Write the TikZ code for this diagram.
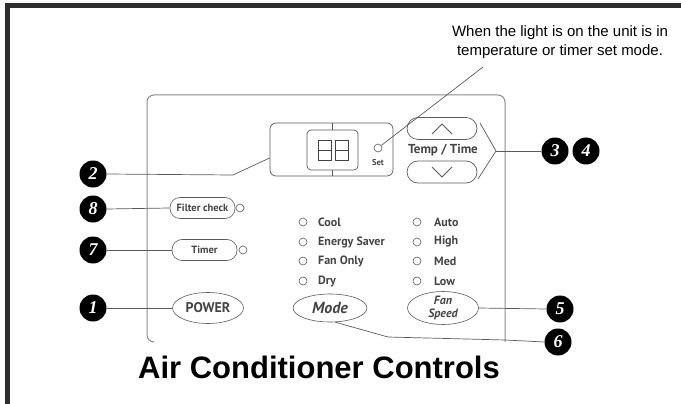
\documentclass[tikz,border=0pt]{standalone}
\usepackage{fontspec}
\setmainfont{Liberation Sans}
\newfontfamily\pfont{PT Sans}
\newfontfamily\nfont{Liberation Serif}
\usetikzlibrary{shapes.geometric,calc}
\definecolor{framec}{HTML}{2E2E2E}
\definecolor{panelc}{HTML}{8C8C8C}
\definecolor{ptext}{HTML}{444444}
\definecolor{cline}{HTML}{5A5A5A}
\begin{document}
\begin{tikzpicture}[x=1pt,y=-1pt,
  num/.style={circle,fill=black,minimum size=27pt,inner sep=0pt,text=white,
    font=\nfont\bfseries\itshape\fontsize{18}{18}\selectfont},
  pill/.style={draw=cline,rounded corners=10pt,minimum height=21pt,inner sep=0pt,
    font=\pfont\bfseries\fontsize{10.5}{12}\selectfont,text=ptext,line width=0.6pt},
  oval/.style={draw=cline,ellipse,inner sep=0pt,line width=0.6pt,text=ptext},
  led/.style={circle,draw=cline,minimum size=8pt,inner sep=0pt,line width=0.6pt},
  item/.style={anchor=west,inner sep=0pt,text=ptext,font=\pfont\bfseries\fontsize{12}{13}\selectfont},
  conn/.style={draw=cline,line width=0.7pt},
  panelline/.style={draw=panelc,line width=1pt},
  seg/.style={draw=ptext,line width=0.9pt}
]
\useasboundingbox (0,0) rectangle (681,404);
% outer frame strips
\fill[framec] (5,3) rectangle (681,8);
\fill[framec] (5,3) rectangle (10,404);

% note
\node[align=center,font=\fontsize{15}{19}\selectfont,inner sep=0pt] (note) at (560,42)
  {When the light is on the unit is in\\temperature or timer set mode.};
\coordinate (np) at (483,67);

% panel
\draw[panelline,rounded corners=7pt] (154,342) -- (147,342) -- (147,95) -- (505,95) -- (505,342);

% display
\node[draw=cline,rounded corners=6pt,minimum width=123pt,minimum height=53pt,inner sep=0pt,line width=0.7pt] (disp) at (331.5,149.5) {};
\node[draw=cline,rounded corners=4pt,minimum width=51pt,minimum height=40pt,inner sep=0pt,line width=0.7pt] (inner) at (332.5,150) {};
\draw[cline,line width=0.7pt] (inner.north) -- (inner.north |- disp.north);
\draw[cline,line width=0.7pt] (inner.south) -- (inner.south |- disp.south);
\draw[seg] (318,140) rectangle (331,160) (318,150) -- (331,150);
\draw[seg] (335,140) rectangle (348,160) (335,150) -- (348,150);
\node[led] (setled) at (378,148) {};
\node[font=\pfont\bfseries\fontsize{8.5}{9}\selectfont,text=ptext,inner sep=0pt] (settxt) at (378,163) {Set};

% temp / time
\node[draw=cline,rounded corners=11pt,minimum width=70pt,minimum height=22pt,inner sep=0pt,line width=0.7pt] (up) at (442,128.5) {};
\node[draw=cline,rounded corners=11pt,minimum width=70pt,minimum height=22pt,inner sep=0pt,line width=0.7pt] (down) at (442,172) {};
\draw[cline,line width=0.9pt] (432,134) -- (442,124) -- (452,134);
\draw[cline,line width=0.9pt] (432,167) -- (442,177) -- (452,167);
\node[font=\pfont\bfseries\fontsize{13}{13}\selectfont,text=ptext,inner sep=0pt] (tt) at (443,150) {Temp / Time};
\coordinate (bt) at (480,123);
\coordinate (bm) at (496,151);
\coordinate (bb) at (478,179);
\draw[conn] (bt) -- (bm) -- (bb);

% left buttons
\node[pill,minimum width=65pt] (filter) at (202.5,208) {Filter check};
\node[led,fill=white] (fled) at (240,208) {};
\node[pill,minimum width=65pt] (timer) at (204.5,250) {Timer};
\node[led,fill=white] (tled) at (243,250) {};
\node[oval,minimum width=71pt,minimum height=31pt,font=\pfont\bfseries\fontsize{14}{14}\selectfont] (power) at (208,308) {POWER};

% mode list
\foreach \y/\t [count=\i] in {222/Cool,242/Energy Saver,261/Fan Only,281/Dry}{
  \node[led] (ml\i) at (303,\y) {};
  \node[item] (mt\i) at (318,\y) {\t};
}
\foreach \y/\t [count=\i] in {222/Auto,242/High,261/Med,281/Low}{
  \node[led] (fl\i) at (417,\y) {};
  \node[item] (ft\i) at (434,\y) {\t};
}
\node[oval,minimum width=74pt,minimum height=28pt,font=\pfont\bfseries\itshape\fontsize{16}{16}\selectfont] (mode) at (330,308) {Mode};
\node[oval,minimum width=71pt,minimum height=30pt,align=center,font=\pfont\bfseries\itshape\fontsize{12}{12.5}\selectfont] (fan) at (443,308) {Fan\\Speed};

% numbered markers
\node[num] (n2) at (93,174) {2};
\node[num] (n8) at (93,209) {8};
\node[num] (n7) at (93,250) {7};
\node[num] (n1) at (93,308) {1};
\node[num] (n3) at (555,151) {3};
\node[num] (n4) at (586,151) {4};
\node[num] (n5) at (560,309) {5};
\node[num] (n6) at (558,342) {6};

% connectors
\draw[conn] (np) -- (setled);
\draw[conn] (n2.east) -- (233,175) -- ([yshift=-8.5pt]disp.west);
\draw[conn] (n8.east) -- (filter.west);
\draw[conn] (n7.east) -- (timer.west);
\draw[conn] (n1.east) -- (power.west);
\draw[conn] (bm) -- (n3.west);
\draw[conn] (fan.east) -- (n5.west);
\draw[conn] (mode.-70) -- (388,337) -- (505,340) -- (n6.west);

% title
\node[font=\bfseries\fontsize{31}{34}\selectfont,inner sep=0pt] (title) at (319,367) {Air Conditioner Controls};
\end{tikzpicture}
\end{document}
